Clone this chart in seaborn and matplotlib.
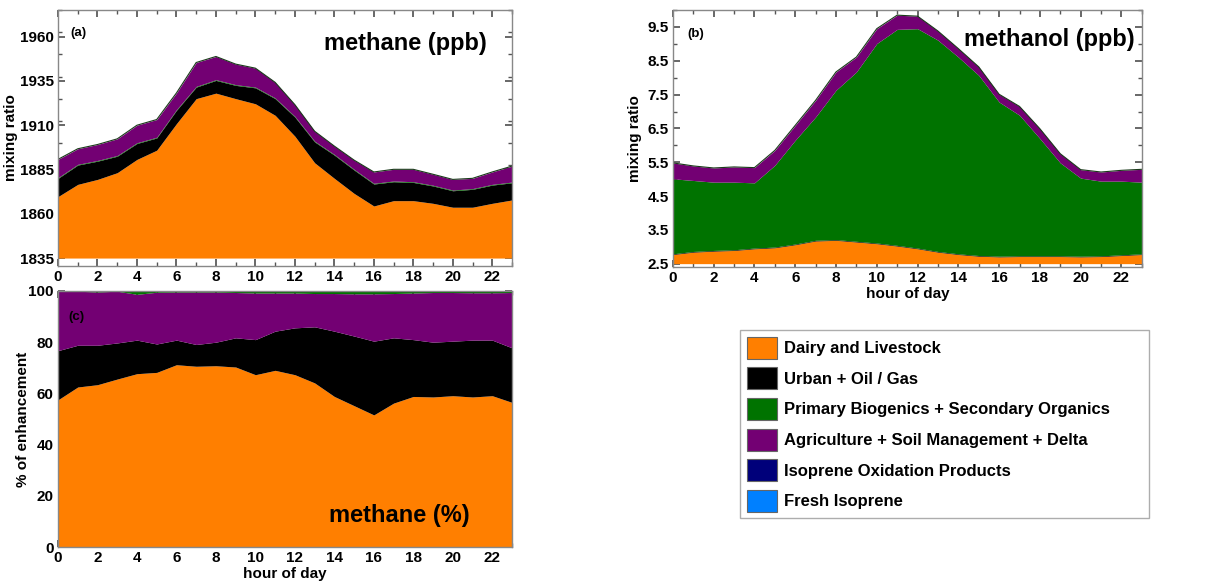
import numpy as np
import pandas as pd
import matplotlib
matplotlib.use("Agg")
import matplotlib.pyplot as plt
from matplotlib.patches import Patch
from matplotlib.ticker import MultipleLocator
import seaborn as sns

hours = list(range(24))

# ---- methane (ppb), contributions above 1835 ppb baseline ----
ch4_base = 1835
ch4_dairy = [34.7, 41.6, 44.4, 48.2, 55.7, 60.9, 75.9, 90.0, 93.1, 90.0, 87.1, 80.6,
             68.8, 53.8, 45.0, 36.5, 29.4, 32.4, 32.4, 30.9, 28.7, 28.7, 30.9, 32.8]
ch4_urban = [10.3, 10.9, 10.3, 9.3, 9.0, 6.9, 7.5, 6.5, 7.2, 7.5, 9.0, 9.4,
             10.8, 11.8, 13.1, 13.2, 12.4, 10.7, 10.3, 9.8, 9.3, 10.1, 10.3, 9.7]
ch4_bio = [0.4] * 24
ch4_agri = [10.3, 8.8, 9.0, 9.4, 9.9, 10.0, 9.4, 13.5, 13.1, 11.6, 10.7, 8.8,
            6.6, 5.6, 4.7, 5.2, 6.4, 6.6, 7.0, 6.2, 6.0, 5.8, 7.0, 9.0]

# ---- methanol (ppb), contributions above 2.5 ppb baseline ----
meoh_base = 2.5
meoh_dairy = [0.27, 0.34, 0.37, 0.39, 0.44, 0.47, 0.56, 0.67, 0.69, 0.64, 0.59, 0.52,
              0.44, 0.34, 0.27, 0.22, 0.20, 0.21, 0.21, 0.21, 0.20, 0.21, 0.24, 0.27]
meoh_urban = [0.02] * 24
meoh_bio = [2.22, 2.10, 2.02, 2.00, 1.93, 2.42, 3.07, 3.65, 4.42, 5.01, 5.90, 6.39,
            6.49, 6.25, 5.82, 5.33, 4.56, 4.16, 3.47, 2.75, 2.31, 2.21, 2.18, 2.12]
meoh_agri = [0.47, 0.43, 0.42, 0.45, 0.45, 0.44, 0.44, 0.49, 0.54, 0.44, 0.44, 0.42,
             0.37, 0.27, 0.25, 0.25, 0.23, 0.26, 0.29, 0.27, 0.25, 0.27, 0.32, 0.38]

# ---- methane (% of enhancement) ----
pct_dairy = [57.5, 62.5, 63.4, 65.6, 67.7, 68.2, 71.2, 70.6, 70.8, 70.3, 67.3, 69.0,
             67.3, 64.1, 58.8, 55.2, 51.6, 56.2, 58.8, 58.6, 59.1, 58.6, 59.1, 56.5]
pct_urban = [19.2, 16.3, 15.4, 14.1, 13.1, 11.1, 9.6, 8.5, 9.2, 11.4, 13.7, 15.3,
             18.3, 21.9, 25.5, 27.2, 28.8, 25.5, 22.2, 21.4, 21.3, 22.2, 21.7, 21.3]
pct_agri = [23.1, 21.1, 20.8, 20.2, 17.9, 20.2, 18.8, 20.5, 19.6, 17.7, 18.2, 14.9,
            13.6, 13.0, 14.7, 16.5, 18.5, 17.3, 18.2, 19.4, 19.0, 18.5, 18.5, 21.6]
pct_bio = [100 - a - b - c for a, b, c in zip(pct_dairy, pct_urban, pct_agri)]

sources = ["Dairy and Livestock", "Urban + Oil / Gas",
           "Primary Biogenics + Secondary Organics",
           "Agriculture + Soil Management + Delta",
           "Isoprene Oxidation Products", "Fresh Isoprene"]
colors = ["#FF7F00", "#000000", "#007300", "#730073", "#00007A", "#0080FF"]

sns.set_theme(style="ticks")
plt.rcParams["font.family"] = ["Liberation Sans", "DejaVu Sans"]
plt.rcParams["font.weight"] = "bold"
plt.rcParams["axes.labelweight"] = "bold"
for k in ["text.color", "axes.labelcolor", "xtick.labelcolor", "ytick.labelcolor"]:
    plt.rcParams[k] = "black"

fig = plt.figure(figsize=(12.19, 5.83), dpi=100)
ax_a = fig.add_axes([0.0476, 0.5437, 0.3724, 0.439])
ax_b = fig.add_axes([0.552, 0.5420, 0.3847, 0.4407])
ax_c = fig.add_axes([0.0476, 0.0617, 0.3724, 0.4392])


def stack(ax, base, layers, layer_colors):
    df = pd.DataFrame({"hour": hours})
    lower = np.full(len(hours), float(base))
    for vals, col in zip(layers, layer_colors):
        upper = lower + np.asarray(vals, dtype=float)
        ax.fill_between(df["hour"], lower, upper, color=col, linewidth=0)
        lower = upper
    df["top"] = lower
    sns.lineplot(data=df, x="hour", y="top", ax=ax, color="#1a3a1a",
                 linewidth=0.8, legend=False)


def style(ax, ylim, major, minor):
    ax.set_xlim(0, 23)
    ax.set_ylim(*ylim)
    ax.xaxis.set_major_locator(MultipleLocator(2))
    ax.xaxis.set_minor_locator(MultipleLocator(1))
    ax.yaxis.set_major_locator(MultipleLocator(major))
    ax.yaxis.set_minor_locator(MultipleLocator(minor))
    ax.tick_params(which="both", direction="in", top=True, right=True,
                   color="#555555", labelsize=11, pad=3)
    ax.tick_params(which="major", length=5)
    ax.tick_params(which="minor", length=3)
    for lab in ax.get_xticklabels() + ax.get_yticklabels():
        lab.set_fontweight("bold")
    for s in ax.spines.values():
        s.set_color("#888888")
        s.set_linewidth(1.0)
    ax.set_xlabel("")
    ax.set_ylabel("")


stack(ax_a, ch4_base, [ch4_dairy, ch4_urban, ch4_bio, ch4_agri],
      [colors[0], colors[1], colors[2], colors[3]])
style(ax_a, (1830.5, 1975), 25, 12.5)
ax_a.set_yticks([1835, 1860, 1885, 1910, 1935, 1960])
ax_a.set_ylabel("mixing ratio", fontsize=11, fontweight="bold", labelpad=1)
ax_a.text(0.027, 0.91, "(a)", transform=ax_a.transAxes, fontsize=9.5,
          fontweight="bold", va="center")
ax_a.text(0.945, 0.87, "methane (ppb)", transform=ax_a.transAxes, fontsize=17,
          fontweight="bold", ha="right", va="center")

stack(ax_b, meoh_base, [meoh_dairy, meoh_urban, meoh_bio, meoh_agri],
      [colors[0], colors[1], colors[2], colors[3]])
style(ax_b, (2.4, 10.0), 1.0, 0.5)
ax_b.set_yticks([2.5, 3.5, 4.5, 5.5, 6.5, 7.5, 8.5, 9.5])
ax_b.set_ylabel("mixing ratio", fontsize=11, fontweight="bold", labelpad=4)
ax_b.set_xlabel("hour of day", fontsize=11, fontweight="bold", labelpad=1)
ax_b.text(0.03, 0.905, "(b)", transform=ax_b.transAxes, fontsize=9.5,
          fontweight="bold", va="center")
ax_b.text(0.985, 0.885, "methanol (ppb)", transform=ax_b.transAxes, fontsize=17,
          fontweight="bold", ha="right", va="center")

stack(ax_c, 0, [pct_dairy, pct_urban, pct_agri, pct_bio],
      [colors[0], colors[1], colors[3], colors[2]])
style(ax_c, (0, 100), 20, 10)
ax_c.set_ylabel("% of enhancement", fontsize=11, fontweight="bold", labelpad=-1)
ax_c.set_xlabel("hour of day", fontsize=11, fontweight="bold", labelpad=1)
ax_c.text(0.022, 0.90, "(c)", transform=ax_c.transAxes, fontsize=9.5,
          fontweight="bold", va="center")
ax_c.text(0.907, 0.125, "methane (%)", transform=ax_c.transAxes, fontsize=17,
          fontweight="bold", ha="right", va="center")

handles = [Patch(facecolor=c, edgecolor="#666666", linewidth=0.8) for c in colors]
leg = fig.legend(handles, sources, loc="upper left", mode="expand",
                 bbox_to_anchor=(740 / 1219, 1 - 517 / 583, 409 / 1219, 187 / 583),
                 frameon=True, fancybox=False, fontsize=12,
                 handlelength=1.8, handleheight=1.65, labelspacing=0.52,
                 handletextpad=0.45, borderpad=0.4, borderaxespad=0.0)
leg.get_frame().set_edgecolor("#999999")
leg.get_frame().set_linewidth(1.0)
for t in leg.get_texts():
    t.set_fontweight("bold")

fig.savefig("out.png", dpi=100)
